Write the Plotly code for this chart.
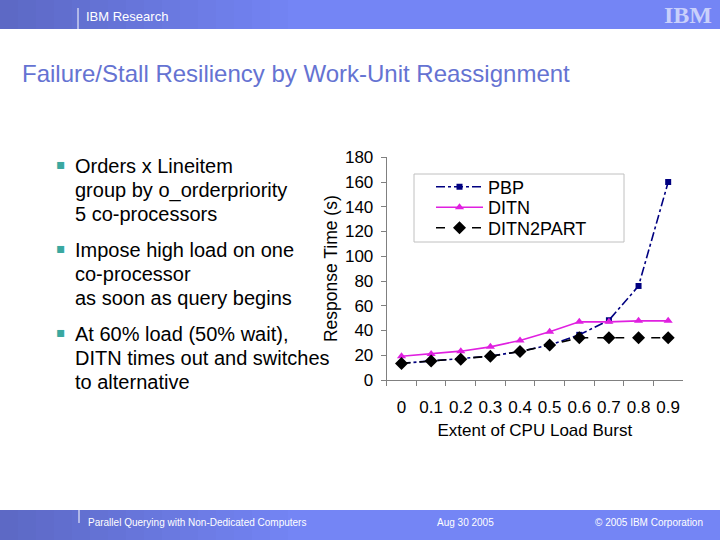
import plotly.graph_objects as go

W, H = 720, 540

# ---- data ----
burst = ["0", "0.1", "0.2", "0.3", "0.4", "0.5", "0.6", "0.7", "0.8", "0.9"]
pbp = [13.5, 15.4, 16.8, 19.3, 23.1, 28.3, 36.5, 48.3, 76.0, 160.0]
ditn = [19.2, 21.1, 23.3, 26.8, 32.0, 39.0, 47.0, 47.0, 47.8, 47.8]
ditn2part = [13.4, 15.3, 16.7, 19.2, 23.0, 28.2, 34.2, 34.2, 34.2, 34.2]

bullets = [
    ["Orders x Lineitem", "group by o_orderpriority", "5 co-processors"],
    ["Impose high load on one", "co-processor", "as soon as query begins"],
    ["At 60% load (50% wait),", "DITN times out and switches", "to alternative"],
]


def px(x):
    return x / W


def py(y):
    return (H - y) / H


fig = go.Figure()

fig.add_trace(go.Scatter(
    x=burst, y=pbp, name="PBP", mode="lines+markers",
    line=dict(color="#000080", width=1.6, dash="dashdot"),
    marker=dict(symbol="square", size=6, color="#000080"),
    legend="legend", showlegend=True,
))
fig.add_trace(go.Scatter(
    x=burst, y=ditn, name="DITN", mode="lines+markers",
    line=dict(color="#e020e0", width=1.6),
    marker=dict(symbol="triangle-up", size=8, color="#e020e0"),
    legend="legend2", showlegend=True,
))
fig.add_trace(go.Scatter(
    x=burst, y=ditn2part, name="DITN2PART", mode="lines+markers",
    line=dict(color="#000000", width=1.6, dash="dash"),
    marker=dict(symbol="diamond", size=10, color="#000000"),
    legend="legend3", showlegend=True,
))

shapes = []
def lerp(c1, c2, t):
    return "rgb(%d,%d,%d)" % tuple(round(a + (b - a) * t) for a, b in zip(c1, c2))

dark = (92, 104, 196)
light = (116, 133, 245)
n = 40
for i in range(n):
    x0 = i * W / n
    x1 = min(W, (i + 1) * W / n + 1)
    t = min(1.0, (x0 + W / n / 2) / 300.0)
    col = lerp(dark, light, t)
    shapes.append(dict(type="rect", xref="paper", yref="paper",
                       x0=px(x0), x1=px(x1), y0=py(29), y1=py(0),
                       fillcolor=col, line=dict(width=0), layer="below"))
    shapes.append(dict(type="rect", xref="paper", yref="paper",
                       x0=px(x0), x1=px(x1), y0=py(540), y1=py(510),
                       fillcolor=col, line=dict(width=0), layer="below"))
shapes.append(dict(type="line", xref="paper", yref="paper",
                   x0=px(78), x1=px(78), y0=py(8), y1=py(30),
                   line=dict(color="white", width=1)))
shapes.append(dict(type="line", xref="paper", yref="paper",
                   x0=px(79), x1=px(79), y0=py(509), y1=py(523),
                   line=dict(color="white", width=1)))
# legend frame
shapes.append(dict(type="rect", xref="paper", yref="paper",
                   x0=px(414), x1=px(624), y0=py(242), y1=py(174),
                   fillcolor="white", line=dict(color="#c0c0c0", width=1), layer="below"))

annotations = []
annotations.append(dict(text="IBM Research", x=px(84), y=py(16), xref="paper", yref="paper",
                        xanchor="left", yanchor="middle", showarrow=False,
                        font=dict(family="Arial", size=13, color="white")))
annotations.append(dict(text="<b>IBM</b>", x=px(714), y=py(15), xref="paper", yref="paper",
                        xanchor="right", yanchor="middle", showarrow=False,
                        font=dict(family="Liberation Serif", size=24, color="#c9d0fb")))
annotations.append(dict(text="Failure/Stall Resiliency by Work-Unit Reassignment",
                        x=px(20), y=py(73), xref="paper", yref="paper",
                        xanchor="left", yanchor="middle", showarrow=False,
                        font=dict(family="Arial", size=24, color="#6573d2")))

starts = [166, 250, 334]
for lines, y0 in zip(bullets, starts):
    annotations.append(dict(text="\u25aa", x=px(61), y=py(y0 - 2), xref="paper", yref="paper",
                            xanchor="center", yanchor="middle", showarrow=False,
                            font=dict(family="DejaVu Sans", size=14, color="#3aa8a0")))
    for k, line in enumerate(lines):
        annotations.append(dict(text=line, x=px(73), y=py(y0 + 24 * k), xref="paper", yref="paper",
                                xanchor="left", yanchor="middle", showarrow=False,
                                font=dict(family="Arial", size=20, color="black")))

annotations.append(dict(text="Parallel Querying with Non-Dedicated Computers", x=px(86), y=py(522),
                        xref="paper", yref="paper", xanchor="left", yanchor="middle", showarrow=False,
                        font=dict(family="Arial", size=10, color="white")))
annotations.append(dict(text="Aug 30 2005", x=px(465), y=py(522),
                        xref="paper", yref="paper", xanchor="center", yanchor="middle", showarrow=False,
                        font=dict(family="Arial", size=10, color="white")))
annotations.append(dict(text="\u00a9 2005 IBM Corporation", x=px(705), y=py(522),
                        xref="paper", yref="paper", xanchor="right", yanchor="middle", showarrow=False,
                        font=dict(family="Arial", size=10, color="white")))


def leg(ycenter):
    return dict(x=px(431), y=py(ycenter), xanchor="left", yanchor="middle",
                bgcolor="rgba(0,0,0,0)", borderwidth=0,
                font=dict(family="Arial", size=18, color="black"),
                itemwidth=47)


fig.update_layout(
    width=W, height=H,
    showlegend=True,
    margin=dict(l=0, r=0, t=0, b=0, autoexpand=False),
    paper_bgcolor="white", plot_bgcolor="white",
    font=dict(family="Arial", color="black"),
    shapes=shapes, annotations=annotations,
    legend=leg(187), legend2=leg(207.5), legend3=leg(228),
    xaxis=dict(domain=[px(386.7), px(683)], type="category", automargin=False,
               range=[-0.5, 9.5], showline=True, linecolor="#808080", linewidth=1,
               ticks="outside", tickson="boundaries", ticklen=5, tickcolor="#808080",
               showgrid=False, zeroline=False, tickangle=0,
               tickfont=dict(family="Arial", size=17, color="black"),
               ticklabelstandoff=12,
               title=dict(text="Extent of CPU Load Burst", standoff=7,
                          font=dict(family="Arial", size=17, color="black"))),
    yaxis=dict(domain=[py(380), py(157.3)], range=[0, 180], dtick=20, automargin=False,
               showline=True, linecolor="#808080", linewidth=1,
               ticks="outside", ticklen=5, tickcolor="#808080",
               showgrid=False, zeroline=False,
               tickfont=dict(family="Arial", size=17, color="black"),
               ticklabelstandoff=4,
               title=dict(text="Response Time (s)", standoff=2,
                          font=dict(family="Arial", size=17.5, color="black"))),
)

fig.write_html(
    "out.html",
    config={"displayModeBar": False},
    post_script="document.body.style.margin='0';document.body.style.overflow='hidden';",
)
